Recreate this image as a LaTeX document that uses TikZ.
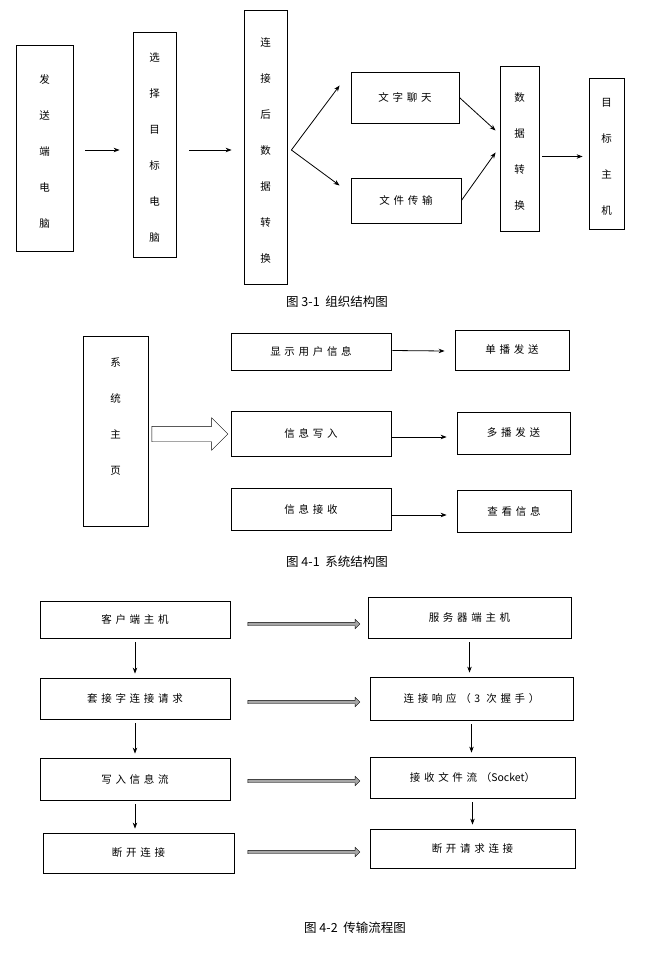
\documentclass[tikz,border=0pt]{standalone}
\usepackage{fontspec}
\newfontfamily\cjk[LetterSpace=35]{Noto Sans CJK SC}
\newfontfamily\cjkcap{Noto Sans CJK SC}
\usetikzlibrary{positioning, shapes.arrows, calc, arrows.meta}
\tikzset{
  box/.style={draw, thick, minimum width=#1, inner sep=0pt, font=\cjk\fontsize{10.5}{10.5}\selectfont},
  box/.default=100pt,
  hollow/.style={single arrow, draw, fill=gray!70, single arrow head extend=3pt, minimum height=112pt, minimum width=5pt, inner sep=1.5pt, anchor=center},
  captext/.style={font=\cjkcap\fontsize{12.5}{12.5}\selectfont}
}
\newcommand{\vtxt}[1]{\renewcommand{\arraystretch}{3.43}\begin{tabular}{@{}c@{}}#1\end{tabular}}
\begin{document}
\begin{tikzpicture}[x=1pt, y=-1pt, >={Stealth[length=6pt,width=4.5pt]}, thick]
\useasboundingbox (0,0) rectangle (647,955);
% top diagram
\node[box=57pt, minimum height=206pt] (send) at (44.5,148) {\vtxt{发\\送\\端\\电\\脑}};
\node[box=43pt, minimum height=225pt] (pick) at (154.5,144.5) {\vtxt{选\\择\\目\\标\\电\\脑}};
\node[box=43pt, minimum height=274pt] (conv) at (265.5,147) {\vtxt{连\\接\\后\\数\\据\\转\\换}};
\node[box=108pt, minimum height=51pt] (chat) at (405,97.5) {文字聊天};
\node[box=110pt, minimum height=45pt] (file) at (406,200.5) {文件传输};
\node[box=39pt, minimum height=165pt] (conv2) at (519.5,148.5) {\vtxt{数\\据\\转\\换}};
\node[box=35pt, minimum height=151pt] (host) at (606.5,153.5) {\vtxt{目\\标\\主\\机}};
\draw[->] ($(send.east)+(12,2)$) -- ($(pick.west)+(-13,5.5)$);
\draw[->] ($(pick.east)+(13,5.5)$) -- ($(conv.west)+(-12,3)$);
\draw[->] ($(conv.east)+(4,3)$) -- ($(chat.west)+(-11,-12)$);
\draw[->] ($(conv.east)+(4,3)$) -- ($(file.west)+(-11,-15)$);
\draw[->] (chat.east) -- ($(conv2.west)+(-4,-18)$);
\draw[->] (file.east) -- ($(conv2.west)+(-4,4)$);
\draw[->] ($(conv2.east)+(3,8)$) -- ($(host.west)+(-6,3)$);
\node[captext] (cap1) at (337,302) {图 3-1\ \ 组织结构图};
% middle diagram
\node[box=65pt, minimum height=190pt] (home) at (115.5,431) {\vtxt{系\\统\\主\\页\\\ }};
\node[box=160pt, minimum height=37pt] (show) at (311,351.5) {显示用户信息};
\node[box=160pt, minimum height=45pt] (write) at (311,433.5) {信息写入};
\node[box=160pt, minimum height=42pt] (recv) at (311,509) {信息接收};
\node[box=114pt, minimum height=40pt] (uni) at (512,350) {单播发送};
\node[box=113pt, minimum height=42pt] (multi) at (513.5,433) {多播发送};
\node[box=114pt, minimum height=42pt] (look) at (514,511) {查看信息};
\node[single arrow, draw=black, thin, minimum height=76pt, single arrow head extend=8.5pt, inner sep=7.5pt] (big) at (186,434) {};
\draw[->] ($(show.east)+(1,-1)$) -- ($(uni.west)+(-10,1)$);
\draw[->] ($(write.east)+(1,3.5)$) -- ($(multi.west)+(-10,4)$);
\draw[->] ($(recv.east)+(1,6)$) -- ($(look.west)+(-10,4)$);
\node[captext] (cap2) at (337,562) {图 4-1\ \ 系统结构图};
% bottom diagram
\node[box=190pt, minimum height=37pt] (c1) at (135,619.5) {客户端主机};
\node[box=190pt, minimum height=41pt] (c2) at (135,698.5) {套接字连接请求};
\node[box=190pt, minimum height=42pt] (c3) at (135,779) {写入信息流};
\node[box=191pt, minimum height=40pt] (c4) at (138.5,853) {断开连接};
\node[box=203pt, minimum height=41pt] (s1) at (469.5,617.5) {服务器端主机};
\node[box=203pt, minimum height=43pt] (s2) at (471.5,698.5) {连接响应（3 次握手）};
\node[box=205pt, minimum height=41pt] (s3) at (472.5,777.5) {接收文件流（{\cjkcap Socket}）};
\node[box=205pt, minimum height=39pt] (s4) at (472.5,848.5) {断开请求连接};
\foreach \a/\b in {c1/c2, c2/c3, c3/c4, s1/s2, s2/s3, s3/s4}
  \draw[->] ($(\a.south)+(0,4)$) -- ($(\a.south |- \b.north)+(0,-4)$);
\foreach \yy in {624, 702, 781, 852}
  \node[hollow, thin] at (303,\yy) {};
\node[captext] (cap3) at (355,928) {图 4-2\ \ 传输流程图};
\end{tikzpicture}
\end{document}
